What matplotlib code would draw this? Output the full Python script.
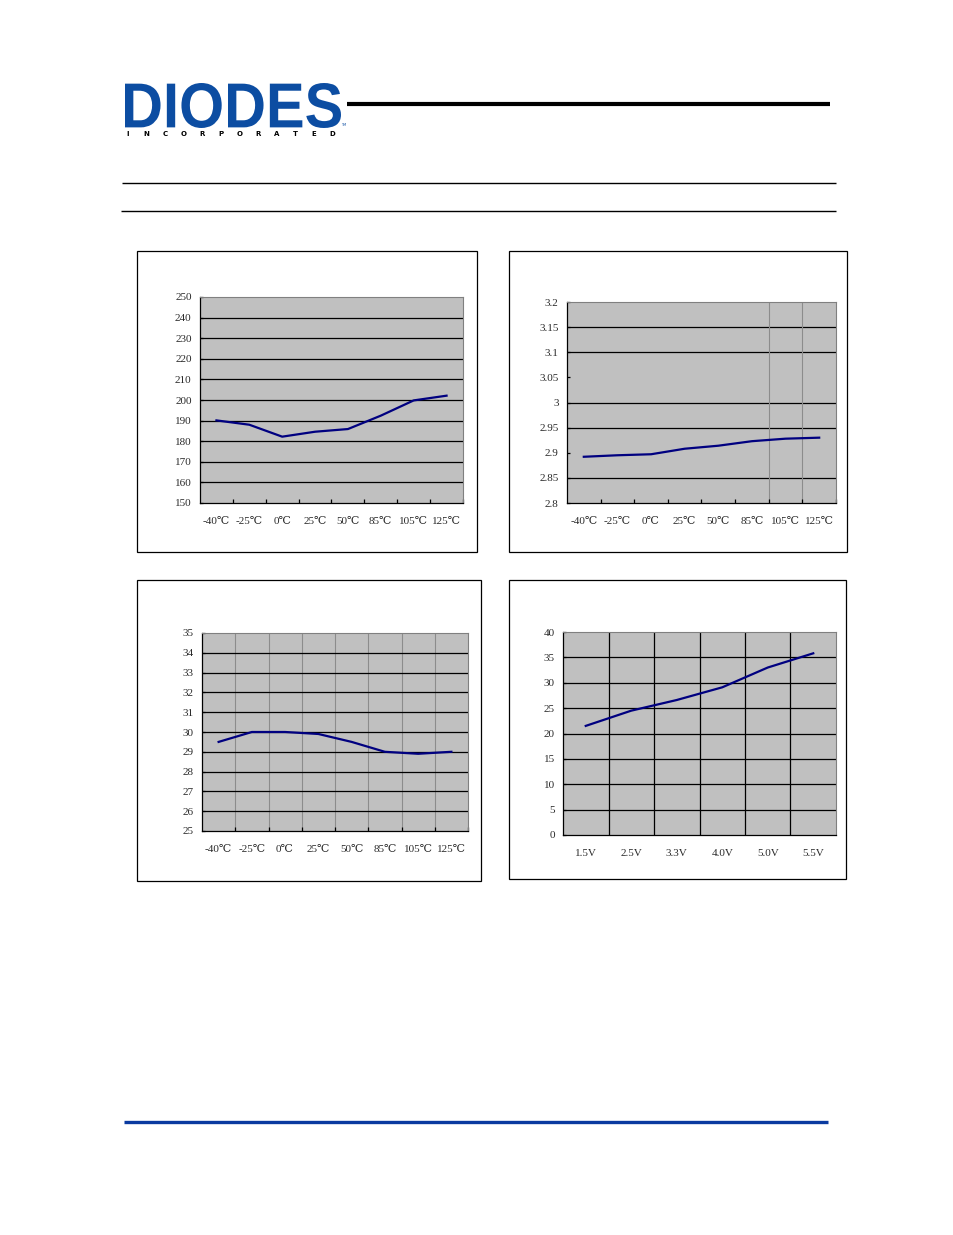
import numpy as np
import matplotlib
matplotlib.use("Agg")
import matplotlib.pyplot as plt
from matplotlib.lines import Line2D
from matplotlib.patches import Rectangle, PathPatch
from matplotlib.textpath import TextPath
from matplotlib.font_manager import FontProperties
from matplotlib.transforms import Affine2D, IdentityTransform

# ---- data ----
temps = ["-40\u2103", "-25\u2103", "0\u2103", "25\u2103", "50\u2103", "85\u2103", "105\u2103", "125\u2103"]
volts = ["1.5V", "2.5V", "3.3V", "4.0V", "5.0V", "5.5V"]

chart1_vals = [190.1, 188.0, 182.2, 184.6, 185.9, 192.4, 199.8, 202.1]
chart2_vals = [2.892, 2.895, 2.897, 2.908, 2.914, 2.923, 2.928, 2.930]
chart3_vals = [29.5, 30.0, 30.0, 29.9, 29.5, 29.0, 28.9, 29.0]
chart4_vals = [21.5, 24.5, 26.6, 29.1, 33.0, 35.8]

chart1_ticks = list(range(150, 251, 10))
chart2_ticks = [2.8, 2.85, 2.9, 2.95, 3.0, 3.05, 3.1, 3.15, 3.2]
chart2_tick_labels = ["2.8", "2.85", "2.9", "2.95", "3", "3.05", "3.1", "3.15", "3.2"]
chart2_grid = [2.85, 2.95, 3.0, 3.1, 3.15]   # 2.9 and 3.05 have no line in the original
chart3_ticks = list(range(25, 36))
chart4_ticks = list(range(0, 41, 5))

W, H = 954, 1235
fig = plt.figure(figsize=(W / 100, H / 100), dpi=100)

FONT = ["Liberation Serif", "DejaVu Serif", "DejaVu Sans"]
TXT = "#2a2a2a"
NAVY = "#000080"
PLOT_BG = "#c0c0c0"
LOGO_BLUE = "#0c4da2"


def fx(x):
    return x / W


def fy(y):
    return 1 - y / H


def hline(x0, x1, y, color, lw):
    fig.add_artist(Line2D([fx(x0), fx(x1)], [fy(y), fy(y)], color=color, lw=lw,
                          solid_capstyle="butt"))


def frame(x0, y0, x1, y1):
    fig.add_artist(Rectangle((fx(x0), fy(y1)), fx(x1 - x0), (y1 - y0) / H,
                             fill=False, ec="black", lw=0.9))


def make_axes(x0, y0, x1, y1):
    return fig.add_axes([fx(x0), fy(y1), fx(x1 - x0), (y1 - y0) / H])


def fitted_text(s, x0, y0, x1, y1, color, family, weight="bold"):
    # text path stretched to fill a pixel box (top-left origin)
    path = TextPath((0, 0), s, size=1, prop=FontProperties(family=family, weight=weight))
    ext = path.get_extents()
    sx = (x1 - x0) / ext.width
    sy = (y1 - y0) / ext.height
    tr = Affine2D().translate(-ext.x0, -ext.y0).scale(sx, sy).translate(x0, H - y1)
    fig.add_artist(PathPatch(tr.transform_path(path), fc=color, ec="none",
                             transform=IdentityTransform()))


def style(ax, cats, yticks, ylabels=None, xgrid=None, xtick_marks=True):
    n = len(cats)
    ax.set_facecolor(PLOT_BG)
    ax.set_xlim(-0.5, n - 0.5)
    ax.set_xticks(range(n))
    ax.set_xticklabels(cats, family=FONT, fontsize=8, color=TXT)
    ax.tick_params(axis="x", which="major", length=0, pad=10)
    if xtick_marks:
        ax.set_xticks(np.arange(n) + 0.5, minor=True)
        ax.tick_params(axis="x", which="minor", direction="in", length=3, width=0.9)
    else:
        ax.tick_params(axis="x", which="minor", length=0)
    ax.set_ylim(yticks[0], yticks[-1])
    ax.set_yticks(yticks)
    ax.set_yticklabels(ylabels if ylabels else [str(t) for t in yticks],
                       family=FONT, fontsize=8, color=TXT)
    ax.tick_params(axis="y", direction="in", length=2.5, width=0.9, pad=6)
    ax.tick_params(axis="y", which="minor", length=0)
    for side in ("top", "right"):
        ax.spines[side].set_color("#808080")
        ax.spines[side].set_linewidth(0.8)
    for side in ("left", "bottom"):
        ax.spines[side].set_color("black")
        ax.spines[side].set_linewidth(0.9)
    if xgrid is not None:
        color, width = xgrid
        for xb in np.arange(n - 1) + 0.5:
            ax.axvline(xb, color=color, lw=width, zorder=1)


# ---- page decorations ----
fitted_text("DIODES", 125, 83, 341, 128, LOGO_BLUE, "Liberation Sans")
letters = "INCORPORATED"
for i, ch in enumerate(letters):
    fig.text(fx(128 + i * 18.6), fy(134), ch, fontsize=5, fontweight="bold",
             family="DejaVu Sans", ha="center", va="center", color="black")
fig.text(fx(341), fy(126), "TM", fontsize=2.5, family="DejaVu Sans", color=LOGO_BLUE)

hline(347, 830, 104, "black", 3.0)
hline(122, 836, 183, "black", 1.0)
hline(121, 836, 211, "black", 1.0)
hline(124, 828, 1122, "#0a3aa0", 2.4)

# ---- chart 1 ----
frame(137, 251, 477, 552)
ax1 = make_axes(200, 297, 463, 503)
style(ax1, temps, chart1_ticks)
for v in chart1_ticks[1:-1]:
    ax1.axhline(v, color="black", lw=0.9, zorder=1)
ax1.plot(range(len(temps)), chart1_vals, color=NAVY, lw=1.6, zorder=3)

# ---- chart 2 ----
frame(509, 251, 847, 552)
ax2 = make_axes(567, 302, 836, 503)
style(ax2, temps, chart2_ticks, chart2_tick_labels)
for v in chart2_grid:
    ax2.axhline(v, color="black", lw=0.9, zorder=1)
for xb in (5.5, 6.5):
    ax2.axvline(xb, color="#8c8c8c", lw=0.8, zorder=1)
ax2.plot(range(len(temps)), chart2_vals, color=NAVY, lw=1.6, zorder=3)

# ---- chart 3 ----
frame(137, 580, 481, 881)
ax3 = make_axes(202, 633, 468, 831)
style(ax3, temps, chart3_ticks, xgrid=("#8c8c8c", 0.8))
for v in chart3_ticks[1:-1]:
    ax3.axhline(v, color="black", lw=0.9, zorder=1)
ax3.plot(range(len(temps)), chart3_vals, color=NAVY, lw=1.6, zorder=3)

# ---- chart 4 ----
frame(509, 580, 846, 879)
ax4 = make_axes(563, 632, 836, 835)
style(ax4, volts, chart4_ticks, xgrid=("black", 0.9), xtick_marks=False)
for v in chart4_ticks[1:-1]:
    ax4.axhline(v, color="black", lw=0.9, zorder=1)
ax4.plot(range(len(volts)), chart4_vals, color=NAVY, lw=1.6, zorder=3)

fig.savefig("out.png", dpi=100)
